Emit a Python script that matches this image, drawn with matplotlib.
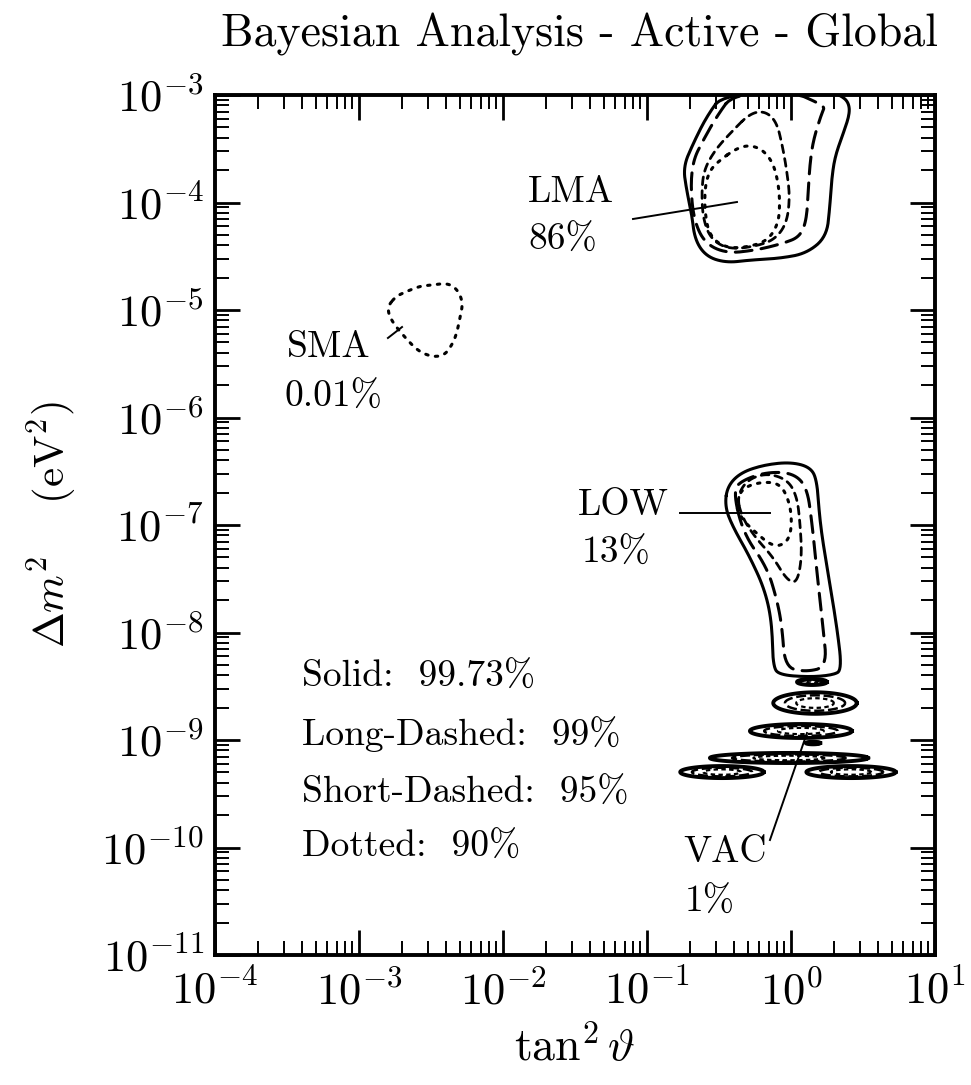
import numpy as np
import matplotlib
matplotlib.use('Agg')
import matplotlib.pyplot as plt

plt.rcParams['font.family'] = 'cmr10'
plt.rcParams['mathtext.fontset'] = 'cm'
plt.rcParams['axes.unicode_minus'] = False

# ---------------- data (log10 tan^2 theta, log10 dm^2) ----------------
x_ticks = [1e-4, 1e-3, 1e-2, 1e-1, 1e0, 1e1]
x_ticklabels = [r'$10^{-4}$', r'$10^{-3}$', r'$10^{-2}$', r'$10^{-1}$', r'$10^{0}$', r'$10^{1}$']
y_ticks = [1e-11, 1e-10, 1e-9, 1e-8, 1e-7, 1e-6, 1e-5, 1e-4, 1e-3]
y_ticklabels = [r'$10^{-11}$', r'$10^{-10}$', r'$10^{-9}$', r'$10^{-8}$', r'$10^{-7}$',
                r'$10^{-6}$', r'$10^{-5}$', r'$10^{-4}$', r'$10^{-3}$']

# LMA region
lma_solid_lx = [-0.470, -0.586, -0.679, -0.748, -0.725, -0.690, -0.667, -0.586, -0.447, -0.285,
                -0.077, 0.108, 0.247, 0.270, 0.282, 0.305, 0.363, 0.409, 0.398, 0.340, 0.250]
lma_solid_ly = [-2.985, -3.201, -3.450, -3.667, -3.884, -4.101, -4.349, -4.504, -4.560, -4.535,
                -4.519, -4.473, -4.318, -4.039, -3.791, -3.574, -3.357, -3.171, -3.062, -3.000, -2.960]
lma_ldash_lx = [-0.401, -0.517, -0.609, -0.679, -0.697, -0.674, -0.598, -0.447, -0.239, -0.054,
                0.062, 0.108, 0.120, 0.132, 0.155, 0.213, 0.236, 0.155, 0.039]
lma_ldash_ly = [-2.985, -3.202, -3.419, -3.605, -3.853, -4.163, -4.380, -4.473, -4.442, -4.380,
                -4.318, -4.163, -3.884, -3.636, -3.419, -3.171, -3.109, -3.053, -2.985]
lma_sdash_lx = [-0.285, -0.412, -0.528, -0.605, -0.621, -0.609, -0.551, -0.424, -0.239, -0.112,
                -0.030, -0.007, -0.030, -0.058, -0.100, -0.181]
lma_sdash_ly = [-3.171, -3.341, -3.512, -3.698, -3.915, -4.163, -4.349, -4.436, -4.405, -4.343,
                -4.194, -3.946, -3.698, -3.481, -3.248, -3.149]
lma_dot_lx = [-0.493, -0.378, -0.285, -0.193, -0.123, -0.088, -0.077, -0.088, -0.158, -0.285,
              -0.447, -0.563, -0.598, -0.598, -0.563]
lma_dot_ly = [-3.605, -3.496, -3.465, -3.512, -3.636, -3.822, -4.008, -4.194, -4.349, -4.411,
              -4.426, -4.318, -4.101, -3.853, -3.698]

# SMA region (90% only)
sma_dot_lx = [-2.750, -2.806, -2.771, -2.646, -2.576, -2.486, -2.403, -2.347, -2.319, -2.299,
              -2.278, -2.313, -2.382, -2.493, -2.576, -2.681]
sma_dot_ly = [-4.879, -4.981, -5.112, -5.307, -5.391, -5.437, -5.419, -5.307, -5.205, -5.074,
              -4.935, -4.814, -4.749, -4.767, -4.777, -4.833]

# LOW region
low_solid_lx = [-0.444, -0.458, -0.403, -0.285, -0.181, -0.132, -0.125, -0.076, 0.132, 0.292,
                0.354, 0.319, 0.257, 0.201, 0.181, 0.132, -0.007, -0.194, -0.354]
low_solid_ly = [-6.647, -6.833, -7.019, -7.298, -7.605, -7.912, -8.321, -8.395, -8.414, -8.395,
                -8.349, -7.949, -7.447, -6.981, -6.581, -6.460, -6.414, -6.442, -6.516]
low_ldash_lx = [-0.403, -0.333, -0.167, -0.097, -0.062, -0.042, 0.097, 0.250, 0.222, 0.181,
                0.146, 0.111, 0.014, -0.167, -0.333]
low_ldash_ly = [-6.674, -7.074, -7.391, -7.698, -7.949, -8.321, -8.367, -8.321, -7.949, -7.447,
                -6.981, -6.647, -6.516, -6.507, -6.581]
low_sdash_lx = [-0.375, -0.340, -0.250, -0.125, -0.028, 0.042, 0.076, 0.063, 0.042, -0.021,
                -0.167, -0.306]
low_sdash_ly = [-6.740, -6.926, -7.112, -7.298, -7.512, -7.540, -7.298, -6.981, -6.740, -6.581,
                -6.516, -6.581]
low_dot_lx = [-0.375, -0.354, -0.264, -0.125, -0.028, 0.007, -0.007, -0.076, -0.215, -0.333]
low_dot_ly = [-6.767, -6.926, -7.047, -7.205, -7.167, -7.019, -6.795, -6.609, -6.600, -6.656]

# VAC islands: centre (log x, log y), half-width (decades), half-height (decades)
vac_cx = [0.146, 0.167, 0.069, 0.153, -0.014, -0.479, 0.417]
vac_cy = [-8.460, -8.656, -8.916, -9.028, -9.167, -9.298, -9.298]
vac_hw = [0.104, 0.290, 0.354, 0.050, 0.549, 0.290, 0.310]
vac_hh = [0.028, 0.100, 0.065, 0.012, 0.047, 0.056, 0.056]

# label annotations
region_labels = ['LMA', '86%', 'SMA', '0.01%', 'LOW', '13%', 'VAC', '1%']
region_label_lx = [-1.826, -1.826, -3.50, -3.514, -1.479, -1.451, -0.750, -0.736]
region_label_ly = [-3.995, -4.44, -5.437, -5.902, -6.907, -7.353, -10.135, -10.60]
pointer_lx = [(-1.097, -0.375), (-2.799, -2.701), (-0.771, -0.146), (-0.146, 0.111)]
pointer_ly = [(-4.153, -3.995), (-5.260, -5.158), (-6.888, -6.888), (-9.930, -8.935)]

legend_lines = ['Solid:  99.73%', 'Long-Dashed:  99%', 'Short-Dashed:  95%', 'Dotted:  90%']
legend_ly = [-8.507, -9.047, -9.586, -10.088]
legend_lx = -3.396

# ---------------- drawing ----------------
LW = 2.2
styles = {
    'solid': dict(linestyle='-', lw=LW),
    'ldash': dict(linestyle=(0, (5.5, 3.0)), lw=LW),
    'sdash': dict(linestyle=(0, (2.8, 2.2)), lw=LW * 0.9),
    'dot': dict(linestyle=(0, (0.8, 2.4)), lw=LW),
}


def smooth_closed(lx, ly, n_iter=3):
    p = np.column_stack([lx, ly]).astype(float)
    for _ in range(n_iter):
        q = np.roll(p, -1, axis=0)
        a = 0.75 * p + 0.25 * q
        b = 0.25 * p + 0.75 * q
        p = np.empty((2 * len(a), 2))
        p[0::2] = a
        p[1::2] = b
    p = np.vstack([p, p[:1]])
    return p[:, 0], p[:, 1]


fig = plt.figure(figsize=(9.71, 10.85), dpi=100)
ax = fig.add_axes([0.2214, 0.1198, 0.7415, 0.7926])
ax.set_xscale('log')
ax.set_yscale('log')
ax.set_xlim(1e-4, 1e1)
ax.set_ylim(1e-11, 1e-3)


def draw(lx, ly, style):
    sx, sy = smooth_closed(lx, ly)
    ax.plot(10 ** sx, 10 ** sy, color='black', solid_capstyle='round',
            dash_capstyle='round', **styles[style])


draw(lma_solid_lx, lma_solid_ly, 'solid')
draw(lma_ldash_lx, lma_ldash_ly, 'ldash')
draw(lma_sdash_lx, lma_sdash_ly, 'sdash')
draw(lma_dot_lx, lma_dot_ly, 'dot')
draw(sma_dot_lx, sma_dot_ly, 'dot')
draw(low_solid_lx, low_solid_ly, 'solid')
draw(low_ldash_lx, low_ldash_ly, 'ldash')
draw(low_sdash_lx, low_sdash_ly, 'sdash')
draw(low_dot_lx, low_dot_ly, 'dot')

t = np.linspace(0, 2 * np.pi, 121)
for cx, cy, hw, hh in zip(vac_cx, vac_cy, vac_hw, vac_hh):
    for scale, st, lw in [(1.0, '-', 2.8), (0.72, (0, (4, 1.5)), 1.8), (0.45, (0, (2, 1.5)), 1.6)]:
        if hh * scale < 0.01 and scale < 1.0:
            continue
        ex = cx + scale * hw * np.cos(t)
        ey = cy + scale * hh * np.sin(t)
        ax.plot(10 ** ex, 10 ** ey, color='black', lw=lw, linestyle=st)

for (x0, x1), (y0, y1) in zip(pointer_lx, pointer_ly):
    ax.plot([10 ** x0, 10 ** x1], [10 ** y0, 10 ** y1], color='black', lw=1.4)

for txt, lx, ly in zip(region_labels, region_label_lx, region_label_ly):
    ax.text(10 ** lx, 10 ** ly, txt, fontsize=27, ha='left', va='baseline')

for txt, ly in zip(legend_lines, legend_ly):
    ax.text(10 ** legend_lx, 10 ** ly, txt, fontsize=27, ha='left', va='baseline')

# axes styling
ax.set_xticks(x_ticks)
ax.set_xticklabels(x_ticklabels)
ax.set_yticks(y_ticks)
ax.set_yticklabels(y_ticklabels)
ax.tick_params(which='both', direction='in', top=True, right=True, color='black')
ax.tick_params(which='major', length=18, width=2.0, labelsize=32)
ax.tick_params(axis='x', which='major', pad=11)
ax.tick_params(axis='y', which='major', pad=8)
ax.tick_params(which='minor', length=10, width=1.4)
for s in ax.spines.values():
    s.set_linewidth(2.8)

ax.set_xlabel(r'$\mathrm{tan}^2\,\vartheta$', fontsize=33, labelpad=9)
ax.set_ylabel(r'$\mathit{\Delta} m^2\quad\ (\mathrm{eV}^2)$', fontsize=31, labelpad=16)

fig.text(0.597, 0.9567, 'Bayesian Analysis - Active - Global', fontsize=33,
         ha='center', va='baseline')

fig.savefig('out.png', dpi=100)
